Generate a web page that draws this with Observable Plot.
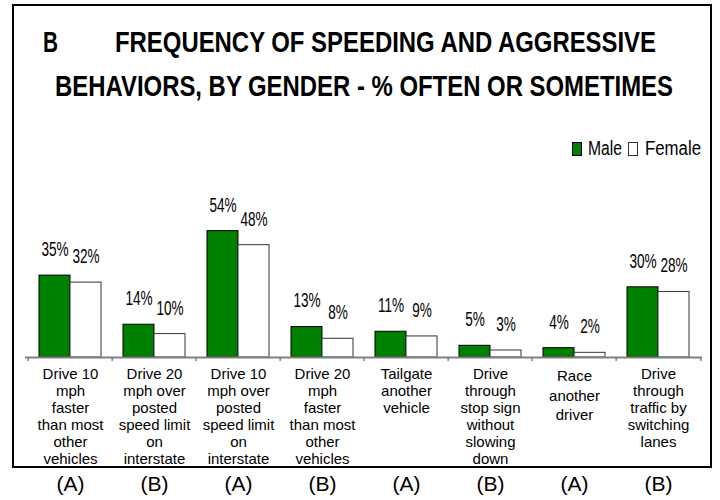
<!DOCTYPE html>
<html><head><meta charset="utf-8">
<script src="https://cdn.jsdelivr.net/npm/d3@7"></script>
<script src="https://cdn.jsdelivr.net/npm/@observablehq/plot@0.6"></script>
<style>
body{margin:0;background:#fff;}
#wrap{position:relative;width:720px;height:500px;overflow:hidden;font-family:"Liberation Sans",Arial,sans-serif;color:#000;}
#chart{position:absolute;left:0;top:0;}
#box{position:absolute;left:12px;top:4px;width:696px;height:460px;border:2px solid #000;}
.t{position:absolute;white-space:nowrap;line-height:1;transform-origin:0 0;}
.b{font-weight:bold;}
.sw{position:absolute;box-sizing:border-box;width:10px;height:14px;}
</style></head><body>
<div id="wrap">
  <div id="chart"></div>
  <div id="box"></div>
  <div class="t b" id="t1a">B</div>
  <div class="t b" id="t1b">FREQUENCY OF SPEEDING AND AGGRESSIVE</div>
  <div class="t b" id="t2">BEHAVIORS, BY GENDER - % OFTEN OR SOMETIMES</div>
  <div class="sw" style="left:572px;top:142px;background:#008000;border:1px solid #000;"></div>
  <div class="t" id="lm">Male</div>
  <div class="sw" style="left:628px;top:142px;background:#fff;border:1px solid #333;"></div>
  <div class="t" id="lf">Female</div>
</div>
<script>
const categories = [
  "Drive 10\nmph\nfaster\nthan most\nother\nvehicles",
  "Drive 20\nmph over\nposted\nspeed limit\non\ninterstate",
  "Drive 10\nmph over\nposted\nspeed limit\non\ninterstate",
  "Drive 20\nmph\nfaster\nthan most\nother\nvehicles",
  "Tailgate\nanother\nvehicle",
  "Drive\nthrough\nstop sign\nwithout\nslowing\ndown",
  "Race\nanother\ndriver",
  "Drive\nthrough\ntraffic by\nswitching\nlanes"
];
const groups = ["(A)","(B)","(A)","(B)","(A)","(B)","(A)","(B)"];
const male = [35,14,54,13,11,5,4,30];
const female = [32,10,48,8,9,3,2,28];

const rows = categories.map((c,i)=>({cat:c, male:male[i], female:female[i], group:groups[i], idx:i}));

const step = 677/8, bw = step*(1-0.267);
const font = '"Liberation Sans", Arial, sans-serif';

const chart = Plot.plot({
  width:720, height:500,
  marginLeft:25, marginRight:18, marginTop:216.6, marginBottom:143,
  x:{domain:categories, paddingInner:0.267, paddingOuter:0.1335, axis:null},
  y:{domain:[0,60], axis:null},
  style:{fontFamily:font, background:"transparent", color:"#000"},
  marks:[
    Plot.barY(rows,{x:"cat", y:"male", fill:"#008000", stroke:"#000", strokeWidth:1, insetRight:bw/2}),
    Plot.barY(rows,{x:"cat", y:"female", fill:"#fff", stroke:"#333", strokeWidth:1, insetLeft:bw/2}),
    Plot.ruleY([0],{stroke:"#808080", strokeWidth:2}),
    Plot.ruleX(rows,{x:"cat", y1:()=>0, y2:()=>0, dx:-step/2, insetBottom:-4, stroke:"#808080", strokeWidth:1.5}),
    Plot.ruleX(rows.slice(-1),{x:"cat", y1:()=>0, y2:()=>0, dx:step/2, insetBottom:-4, stroke:"#808080", strokeWidth:1.5}),
    Plot.text(rows,{x:"cat", y:"male", text:d=>d.male+"%", dx:-15.5, dy:-26, fontSize:20}),
    Plot.text(rows,{x:"cat", y:"female", text:d=>d.female+"%", dx:15.5, dy:-26, fontSize:20}),
    Plot.text(rows.filter(d=>d.idx!==6),{x:"cat", frameAnchor:"bottom", text:"cat", lineAnchor:"top", dy:9.2, fontSize:15, lineHeight:1.14}),
    Plot.text(rows.filter(d=>d.idx===6),{x:"cat", frameAnchor:"bottom", text:"cat", lineAnchor:"top", dy:10, fontSize:15, lineHeight:1.29}),
    Plot.text(rows,{x:"cat", frameAnchor:"bottom", text:"group", lineAnchor:"bottom", dy:133, fontSize:21})
  ]
});
document.getElementById("chart").appendChild(chart);

// condense value labels
const tg = chart.querySelectorAll('g[aria-label="text"]');
[0,1].forEach(k=>{
  tg[k].querySelectorAll("text").forEach(el=>{
    const tr = el.getAttribute("transform") || "";
    el.setAttribute("transform", tr + " scale(0.68,1)");
  });
});

function place(id, left, baseline, width, size){
  const el = document.getElementById(id);
  el.style.fontSize = size+"px";
  el.style.left = left+"px";
  el.style.top = (baseline - 0.8465*size)+"px";
  const w = el.getBoundingClientRect().width;
  el.style.transform = "scaleX("+(width/w)+")";
}
place("t1a", 43, 52.5, 15, 30);
place("t1b", 115, 52.5, 541, 30);
place("t2", 55, 96.5, 618, 30);
place("lm", 588, 156, 34, 19.5);
place("lf", 645, 156, 56, 19.5);
</script>
</body></html>
